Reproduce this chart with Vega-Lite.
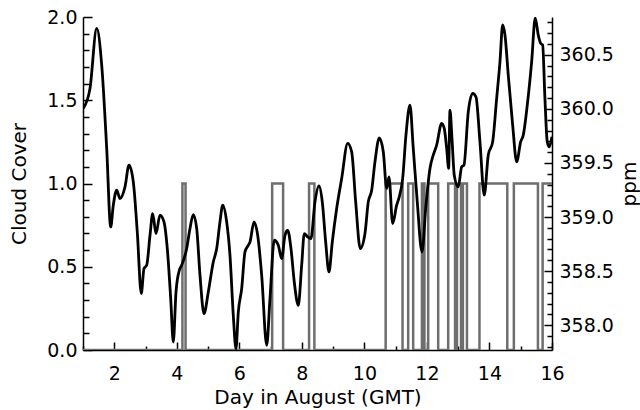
{
  "$schema": "https://vega.github.io/schema/vega-lite/v6.json",
  "width": 469,
  "height": 333,
  "autosize": {"type": "none"},
  "padding": {"left": 83, "top": 17, "right": 88, "bottom": 60},
  "background": "white",
  "config": {
    "view": {"stroke": null},
    "font": "DejaVu Sans",
    "axis": {
      "labelFont": "DejaVu Sans",
      "titleFont": "DejaVu Sans",
      "labelFontSize": 19,
      "titleFontSize": 20,
      "titleFontWeight": "normal",
      "labelColor": "black",
      "titleColor": "black",
      "domainColor": "black",
      "domainWidth": 1.5,
      "tickColor": "black",
      "tickWidth": 1.5,
      "grid": false,
      "labelOverlap": false,
      "labelFlush": false,
      "labelBound": false
    }
  },
  "datasets": {
    "cloud": [
      {"day": 1.0, "cover": 0},
      {"day": 4.18, "cover": 1},
      {"day": 4.28, "cover": 0},
      {"day": 7.05, "cover": 1},
      {"day": 7.40, "cover": 0},
      {"day": 8.23, "cover": 1},
      {"day": 8.40, "cover": 0},
      {"day": 10.68, "cover": 1},
      {"day": 11.22, "cover": 0},
      {"day": 11.40, "cover": 1},
      {"day": 11.56, "cover": 0},
      {"day": 11.84, "cover": 1},
      {"day": 11.92, "cover": 0},
      {"day": 12.04, "cover": 1},
      {"day": 12.36, "cover": 0},
      {"day": 12.68, "cover": 1},
      {"day": 12.90, "cover": 0},
      {"day": 12.96, "cover": 1},
      {"day": 13.09, "cover": 0},
      {"day": 13.15, "cover": 1},
      {"day": 13.28, "cover": 0},
      {"day": 13.68, "cover": 1},
      {"day": 14.57, "cover": 0},
      {"day": 14.78, "cover": 1},
      {"day": 15.55, "cover": 0},
      {"day": 15.70, "cover": 1},
      {"day": 16.0, "cover": 1}
    ],
    "co2": [
      {"day": 1.01, "ppm": 360.005},
      {"day": 1.224, "ppm": 360.19},
      {"day": 1.438, "ppm": 360.745},
      {"day": 1.598, "ppm": 360.406},
      {"day": 1.758, "ppm": 359.634},
      {"day": 1.886, "ppm": 358.908},
      {"day": 1.969, "ppm": 359.109},
      {"day": 2.078, "ppm": 359.248},
      {"day": 2.183, "ppm": 359.171},
      {"day": 2.343, "ppm": 359.279},
      {"day": 2.471, "ppm": 359.48},
      {"day": 2.609, "ppm": 359.325},
      {"day": 2.736, "ppm": 358.862},
      {"day": 2.864, "ppm": 358.292},
      {"day": 2.951, "ppm": 358.523},
      {"day": 3.037, "ppm": 358.554},
      {"day": 3.143, "ppm": 358.831},
      {"day": 3.229, "ppm": 359.032},
      {"day": 3.335, "ppm": 358.847},
      {"day": 3.462, "ppm": 359.017},
      {"day": 3.59, "ppm": 358.955},
      {"day": 3.696, "ppm": 358.708},
      {"day": 3.805, "ppm": 358.245},
      {"day": 3.888, "ppm": 357.844},
      {"day": 3.974, "ppm": 358.306},
      {"day": 4.08, "ppm": 358.507},
      {"day": 4.156, "ppm": 358.554},
      {"day": 4.316, "ppm": 358.708},
      {"day": 4.422, "ppm": 358.894},
      {"day": 4.527, "ppm": 359.023},
      {"day": 4.636, "ppm": 358.894},
      {"day": 4.742, "ppm": 358.461},
      {"day": 4.87, "ppm": 358.106},
      {"day": 5.007, "ppm": 358.306},
      {"day": 5.167, "ppm": 358.584},
      {"day": 5.276, "ppm": 358.708},
      {"day": 5.381, "ppm": 358.955},
      {"day": 5.468, "ppm": 359.109},
      {"day": 5.595, "ppm": 358.955},
      {"day": 5.701, "ppm": 358.646},
      {"day": 5.807, "ppm": 358.091},
      {"day": 5.893, "ppm": 357.782},
      {"day": 5.967, "ppm": 358.121},
      {"day": 6.075, "ppm": 358.338},
      {"day": 6.181, "ppm": 358.677},
      {"day": 6.286, "ppm": 358.739},
      {"day": 6.341, "ppm": 358.769},
      {"day": 6.469, "ppm": 358.955},
      {"day": 6.587, "ppm": 358.831},
      {"day": 6.715, "ppm": 358.461},
      {"day": 6.875, "ppm": 357.813},
      {"day": 6.98, "ppm": 358.245},
      {"day": 7.118, "ppm": 358.785},
      {"day": 7.246, "ppm": 358.739},
      {"day": 7.354, "ppm": 358.616},
      {"day": 7.46, "ppm": 358.831},
      {"day": 7.546, "ppm": 358.878},
      {"day": 7.652, "ppm": 358.708},
      {"day": 7.757, "ppm": 358.399},
      {"day": 7.885, "ppm": 358.183},
      {"day": 7.994, "ppm": 358.554},
      {"day": 8.077, "ppm": 358.847},
      {"day": 8.186, "ppm": 358.816},
      {"day": 8.291, "ppm": 358.801},
      {"day": 8.419, "ppm": 359.14},
      {"day": 8.547, "ppm": 359.288},
      {"day": 8.653, "ppm": 359.14},
      {"day": 8.761, "ppm": 358.769},
      {"day": 8.867, "ppm": 358.492},
      {"day": 8.973, "ppm": 358.769},
      {"day": 9.113, "ppm": 359.079},
      {"day": 9.273, "ppm": 359.356},
      {"day": 9.465, "ppm": 359.681},
      {"day": 9.593, "ppm": 359.603},
      {"day": 9.721, "ppm": 359.14},
      {"day": 9.868, "ppm": 358.708},
      {"day": 10.018, "ppm": 358.847},
      {"day": 10.124, "ppm": 359.14},
      {"day": 10.233, "ppm": 359.248},
      {"day": 10.338, "ppm": 359.51},
      {"day": 10.476, "ppm": 359.732},
      {"day": 10.604, "ppm": 359.603},
      {"day": 10.712, "ppm": 359.264},
      {"day": 10.786, "ppm": 359.371},
      {"day": 10.904, "ppm": 358.94},
      {"day": 11.032, "ppm": 359.109},
      {"day": 11.115, "ppm": 359.186},
      {"day": 11.224, "ppm": 359.356},
      {"day": 11.329, "ppm": 359.757},
      {"day": 11.457, "ppm": 360.035},
      {"day": 11.563, "ppm": 359.634},
      {"day": 11.691, "ppm": 359.14},
      {"day": 11.841, "ppm": 358.677},
      {"day": 11.969, "ppm": 359.109},
      {"day": 12.097, "ppm": 359.449},
      {"day": 12.202, "ppm": 359.572},
      {"day": 12.311, "ppm": 359.665},
      {"day": 12.471, "ppm": 359.866},
      {"day": 12.554, "ppm": 359.819},
      {"day": 12.631, "ppm": 359.634},
      {"day": 12.695, "ppm": 359.449},
      {"day": 12.737, "ppm": 359.989},
      {"day": 12.801, "ppm": 359.727},
      {"day": 12.874, "ppm": 359.387},
      {"day": 13.002, "ppm": 359.279},
      {"day": 13.111, "ppm": 359.464},
      {"day": 13.184, "ppm": 359.48},
      {"day": 13.322, "ppm": 359.973},
      {"day": 13.462, "ppm": 360.144},
      {"day": 13.568, "ppm": 360.112},
      {"day": 13.696, "ppm": 359.695},
      {"day": 13.833, "ppm": 359.202},
      {"day": 13.961, "ppm": 359.572},
      {"day": 14.102, "ppm": 359.695},
      {"day": 14.23, "ppm": 360.097},
      {"day": 14.336, "ppm": 360.436},
      {"day": 14.422, "ppm": 360.776},
      {"day": 14.496, "ppm": 360.683},
      {"day": 14.601, "ppm": 360.313},
      {"day": 14.742, "ppm": 359.85},
      {"day": 14.87, "ppm": 359.51},
      {"day": 14.997, "ppm": 359.695},
      {"day": 15.081, "ppm": 359.757},
      {"day": 15.209, "ppm": 360.035},
      {"day": 15.349, "ppm": 360.436},
      {"day": 15.464, "ppm": 360.84},
      {"day": 15.561, "ppm": 360.683},
      {"day": 15.637, "ppm": 360.606},
      {"day": 15.701, "ppm": 360.591},
      {"day": 15.774, "ppm": 360.097},
      {"day": 15.848, "ppm": 359.695},
      {"day": 15.912, "ppm": 359.649},
      {"day": 15.998, "ppm": 359.742}
    ]
  },
  "encoding": {
    "x": {
      "field": "day",
      "type": "quantitative",
      "scale": {"domain": [1, 16], "nice": false, "zero": false},
      "axis": {
        "orient": "bottom",
        "title": "Day in August (GMT)",
        "values": [1, 1.5, 2, 2.5, 3, 3.5, 4, 4.5, 5, 5.5, 6, 6.5, 7, 7.5, 8, 8.5, 9, 9.5, 10, 10.5, 11, 11.5, 12, 12.5, 13, 13.5, 14, 14.5, 15, 15.5, 16],
        "format": "d",
        "tickSize": {"expr": "datum.value % 2 === 0 ? -8 : -4"},
        "labelExpr": "datum.value % 2 === 0 ? datum.label : ''",
        "labelPadding": 22,
        "titleX": 234.5,
        "titleY": 53,
        "titleBaseline": "alphabetic",
        "titleAlign": "center"
      }
    }
  },
  "layer": [
    {
      "data": {"name": "cloud"},
      "mark": {"type": "line", "interpolate": "step-after", "color": "#6e6e6e", "strokeWidth": 2.5, "clip": true},
      "encoding": {
        "y": {
          "field": "cover",
          "type": "quantitative",
          "scale": {"domain": [0, 2], "nice": false, "zero": false},
          "axis": {
            "orient": "left",
            "title": "Cloud Cover",
            "values": [0, 0.1, 0.2, 0.3, 0.4, 0.5, 0.6, 0.7, 0.8, 0.9, 1, 1.1, 1.2, 1.3, 1.4, 1.5, 1.6, 1.7, 1.8, 1.9, 2],
            "format": ".1f",
            "tickSize": {"expr": "abs(round(datum.value*2) - datum.value*2) < 0.000001 ? -9 : -6"},
            "labelExpr": "abs(round(datum.value*2) - datum.value*2) < 0.000001 ? datum.label : ''",
            "labelPadding": 15,
            "titleAngle": -90,
            "titleX": -58,
            "titleY": 166.5,
            "titleBaseline": "alphabetic",
            "titleAlign": "center"
          }
        }
      }
    },
    {
      "data": {"name": "co2"},
      "mark": {"type": "line", "interpolate": "monotone", "color": "black", "strokeWidth": 2.8, "clip": true},
      "encoding": {
        "y": {
          "field": "ppm",
          "type": "quantitative",
          "scale": {"domain": [357.77, 360.85], "nice": false, "zero": false},
          "axis": {
            "orient": "right",
            "title": "ppm",
            "values": [357.8, 357.9, 358, 358.1, 358.2, 358.3, 358.4, 358.5, 358.6, 358.7, 358.8, 358.9, 359, 359.1, 359.2, 359.3, 359.4, 359.5, 359.6, 359.7, 359.8, 359.9, 360, 360.1, 360.2, 360.3, 360.4, 360.5, 360.6, 360.7, 360.8],
            "format": ".1f",
            "tickSize": {"expr": "abs(round(datum.value*2) - datum.value*2) < 0.000001 ? -8 : -5"},
            "labelExpr": "abs(round(datum.value*2) - datum.value*2) < 0.000001 ? datum.label : ''",
            "labelPadding": 15,
            "titleAngle": -90,
            "titleX": 77,
            "titleY": 166.5,
            "titleBaseline": "middle",
            "titleAlign": "center"
          }
        }
      }
    }
  ],
  "resolve": {"scale": {"y": "independent"}}
}
